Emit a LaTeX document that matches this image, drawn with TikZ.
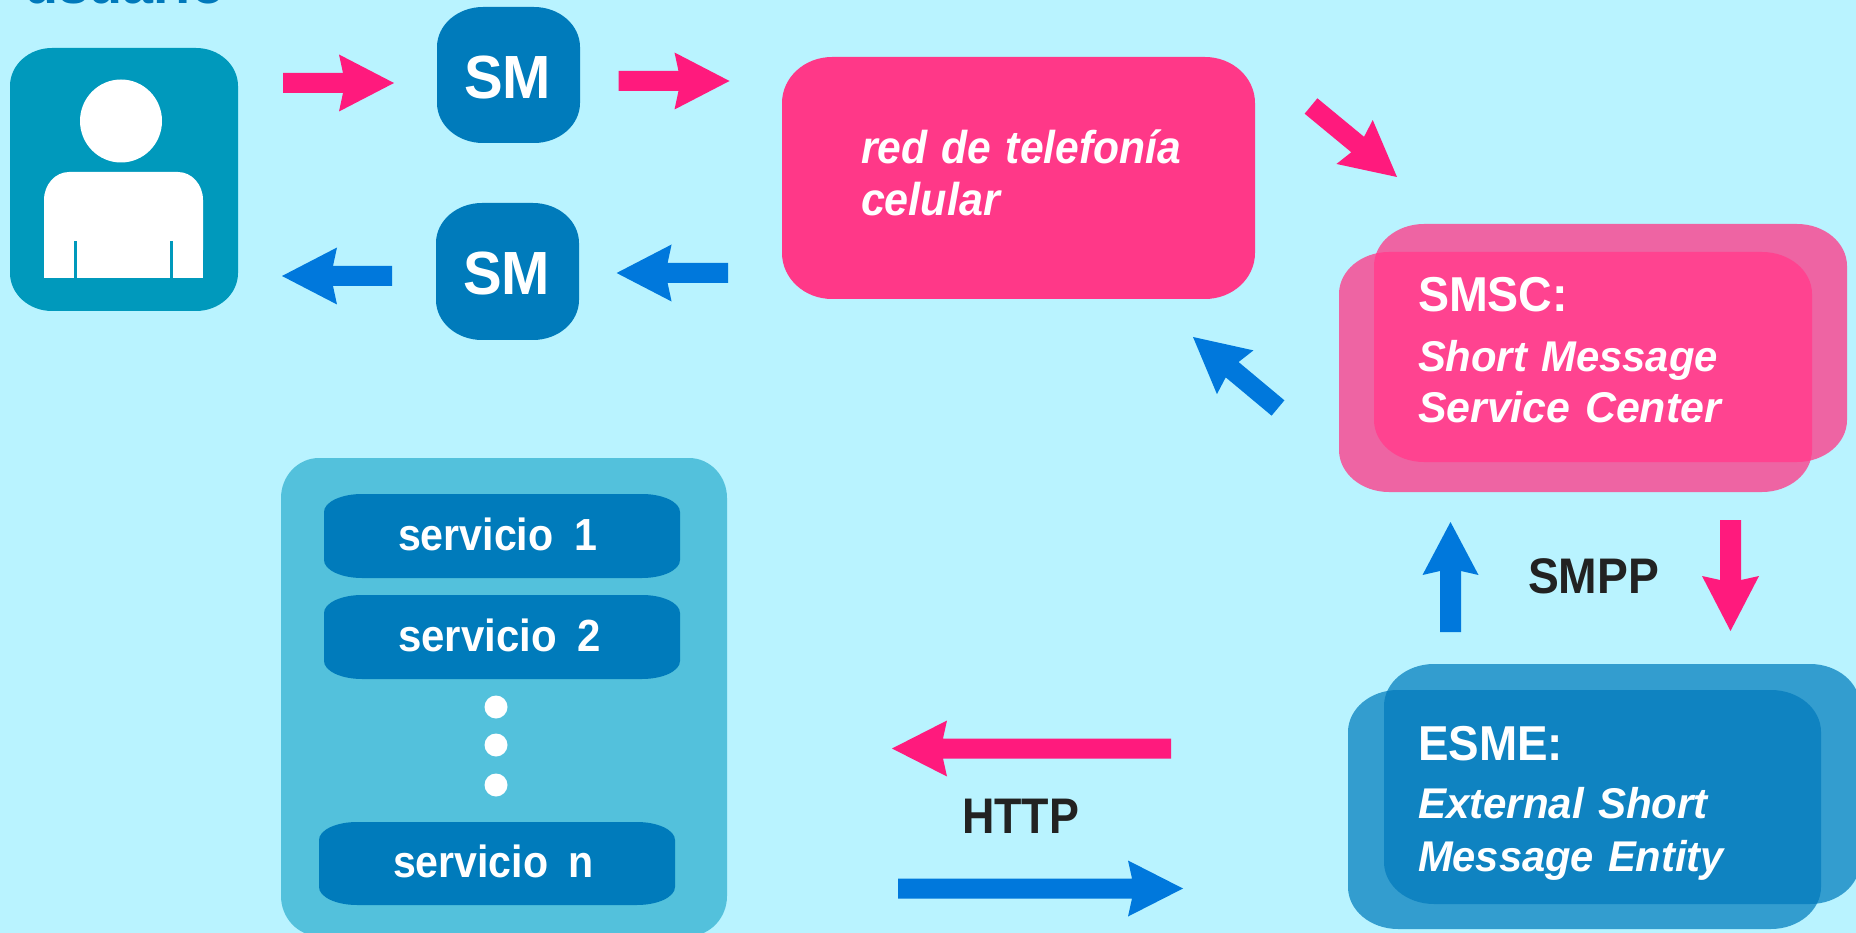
\documentclass[tikz,border=0pt]{standalone}
\usepackage{fontspec}
\usepackage{graphicx}
\setmainfont{Liberation Sans}
\usetikzlibrary{calc}
\definecolor{bg}{HTML}{B9F3FF}
\definecolor{pinkarrow}{HTML}{FF1A7D}
\definecolor{bluearrow}{HTML}{0078DC}
\definecolor{boxblue}{HTML}{007BBB}
\definecolor{userteal}{HTML}{0099BC}
\definecolor{netpink}{HTML}{FF3888}
\definecolor{smscback}{HTML}{EE64A3}
\definecolor{smscfront}{HTML}{FF4390}
\definecolor{esmeback}{HTML}{339DCF}
\definecolor{esmefront}{HTML}{0F83C1}
\definecolor{svcouter}{HTML}{53C1DC}
\definecolor{labelink}{HTML}{222222}
\definecolor{titleink}{HTML}{0079BB}
\tikzset{
  lbl/.style={anchor=base west,inner sep=0pt,outer sep=0pt,text=white},
  lblk/.style={lbl,text=labelink}
}
% rounded rectangle with elliptical corners
\newcommand{\rrpath}[6]{(#1+#5,#2) -- (#3-#5,#2) arc[start angle=90,end angle=0,x radius=#5,y radius=-#6]
  -- (#3,#4-#6) arc[start angle=0,end angle=-90,x radius=#5,y radius=-#6]
  -- (#1+#5,#4) arc[start angle=270,end angle=180,x radius=#5,y radius=-#6]
  -- (#1,#2+#6) arc[start angle=180,end angle=90,x radius=#5,y radius=-#6] -- cycle}
% text fitted to a width: name,x,baseline,width,size,font,text,style
\newcommand{\tx}[8]{\node[#8] (#1) at (#2,#3) {\fontsize{#5}{#5}\selectfont #6\spaceskip=.34em\resizebox{#4pt}{\height}{#7}};}
\newcommand{\svc}[7]{\node[lbl] (#1) at (#2,#3) {\fontsize{#5}{#5}\selectfont\bfseries\spaceskip=.5em\resizebox{#4pt}{\height}{#7}};}
% block arrow: start,end,colour,shaft,head width,head length,notch
\newcommand{\blockarrow}[7]{%
  \coordinate (bk) at ($(#2)!{#6pt-#7pt}!(#1)$);
  \coordinate (hd) at ($(#2)!#6pt!(#1)$);
  \fill[#3] ($(#1)!{#4pt/2}!90:(#2)$) -- ($(bk)!{#4pt/2}!90:(#2)$) -- ($(hd)!{#5pt/2}!90:(#2)$) -- (#2)
    -- ($(hd)!{#5pt/2}!-90:(#2)$) -- ($(bk)!{#4pt/2}!-90:(#2)$) -- ($(#1)!{#4pt/2}!-90:(#2)$) -- cycle;}
\begin{document}
\begin{tikzpicture}[x=1pt,y=-1pt]
\useasboundingbox (0,0) rectangle (1856,933);
\clip (0,0) rectangle (1856,933);
\fill[bg] (0,0) rectangle (1856,933);
% title
\tx{usuario}{24}{4}{201}{56}{\bfseries}{usuario}{lbl,text=titleink}
% user
\fill[userteal] \rrpath{10}{48}{238}{311}{42}{38};
\fill[white] (121,121) ellipse [x radius=41,y radius=41.5];
\fill[white] \rrpath{44}{172}{203}{278}{25}{28};
\fill[white] (44,230) rectangle (203,278);
\fill[userteal] (73.5,241) rectangle (77,278);
\fill[userteal] (169.5,241) rectangle (173,278);
% SM boxes
\fill[boxblue] \rrpath{437}{7}{580}{143}{46}{40};
\fill[boxblue] \rrpath{436}{203}{579}{340}{46}{40};
\tx{sma}{464}{99}{87}{61}{\bfseries}{SM}{lbl}
\tx{smb}{463}{295}{87}{61}{\bfseries}{SM}{lbl}
% network
\fill[netpink] \rrpath{782}{57}{1255}{299}{50}{46};
\tx{neta}{861}{164}{320}{46}{\bfseries\itshape}{red de telefonía}{lbl}
\tx{netb}{861}{216}{139}{46}{\bfseries\itshape}{celular}{lbl}
% SMSC
\fill[smscback] \rrpath{1374}{224}{1847}{462}{50}{42};
\fill[smscback] \rrpath{1339}{252}{1812}{492}{50}{42};
\begin{scope}
\clip \rrpath{1374}{224}{1847}{462}{50}{42};
\fill[smscfront] \rrpath{1339}{252}{1812}{492}{50}{42};
\end{scope}
\tx{smsca}{1418}{312}{150}{49}{\bfseries}{SMSC:}{lbl}
\tx{smscb}{1418}{371}{300}{43}{\bfseries\itshape}{Short Message}{lbl}
\tx{smscc}{1418}{422}{303}{43}{\bfseries\itshape}{Service Center}{lbl}
% ESME
\fill[esmeback] \rrpath{1384}{664}{1860}{904}{50}{42};
\fill[esmeback] \rrpath{1348}{690}{1821}{929}{50}{42};
\begin{scope}
\clip \rrpath{1384}{664}{1860}{904}{50}{42};
\fill[esmefront] \rrpath{1348}{690}{1821}{929}{50}{42};
\end{scope}
\tx{esmea}{1418}{760}{145}{49}{\bfseries}{ESME:}{lbl}
\tx{esmeb}{1418}{818}{290}{43}{\bfseries\itshape}{External Short}{lbl}
\tx{esmec}{1418}{871}{306}{43}{\bfseries\itshape}{Message Entity}{lbl}
% services
\fill[svcouter] \rrpath{281}{458}{727}{936}{38}{40};
\fill[boxblue] \rrpath{324}{494}{680}{578}{38}{18};
\fill[boxblue] \rrpath{324}{595}{680}{679}{38}{18};
\fill[boxblue] \rrpath{319}{822}{675}{905}{38}{18};
\svc{sa}{398}{550}{199}{45}{}{servicio 1}
\svc{sb}{398}{651}{203}{45}{}{servicio 2}
\svc{sn}{393}{877}{201}{45}{}{servicio n}
\fill[white] (496,707) circle (11.5) (496,745) circle (11.5) (496,785) circle (11.5);
% labels
\tx{smpp}{1528}{593}{131}{50}{\bfseries}{SMPP}{lblk}
\tx{http}{962}{833}{117}{50}{\bfseries}{HTTP}{lblk}
% arrows
\coordinate (a1s) at (283,83); \coordinate (a1e) at (394,83);
\coordinate (a2s) at (618.5,81); \coordinate (a2e) at (729.5,81);
\coordinate (a3s) at (392,276); \coordinate (a3e) at (282,276);
\coordinate (a4s) at (728,273); \coordinate (a4e) at (616.6,273);
\coordinate (a5s) at (1311,106); \coordinate (a5e) at (1397,177);
\coordinate (a6s) at (1278,408); \coordinate (a6e) at (1193,337);
\coordinate (a7s) at (1450.5,632); \coordinate (a7e) at (1450.5,522);
\coordinate (a8s) at (1730.5,520); \coordinate (a8e) at (1730.5,631);
\coordinate (a9s) at (1171,748.5); \coordinate (a9e) at (892,748.5);
\coordinate (a10s) at (898,888.5); \coordinate (a10e) at (1183,888.5);
\blockarrow{a1s}{a1e}{pinkarrow}{20}{57}{55}{4}
\blockarrow{a2s}{a2e}{pinkarrow}{20}{57}{55}{4}
\blockarrow{a3s}{a3e}{bluearrow}{20}{57}{55}{4}
\blockarrow{a4s}{a4e}{bluearrow}{20}{57}{55}{4}
\blockarrow{a5s}{a5e}{pinkarrow}{20}{57}{55}{4}
\blockarrow{a6s}{a6e}{bluearrow}{20}{57}{55}{4}
\blockarrow{a7s}{a7e}{bluearrow}{21}{56}{53}{4}
\blockarrow{a8s}{a8e}{pinkarrow}{21}{57}{55}{4}
\blockarrow{a9s}{a9e}{pinkarrow}{20}{56}{55}{4}
\blockarrow{a10s}{a10e}{bluearrow}{20}{56}{55}{4}
\end{tikzpicture}
\end{document}
